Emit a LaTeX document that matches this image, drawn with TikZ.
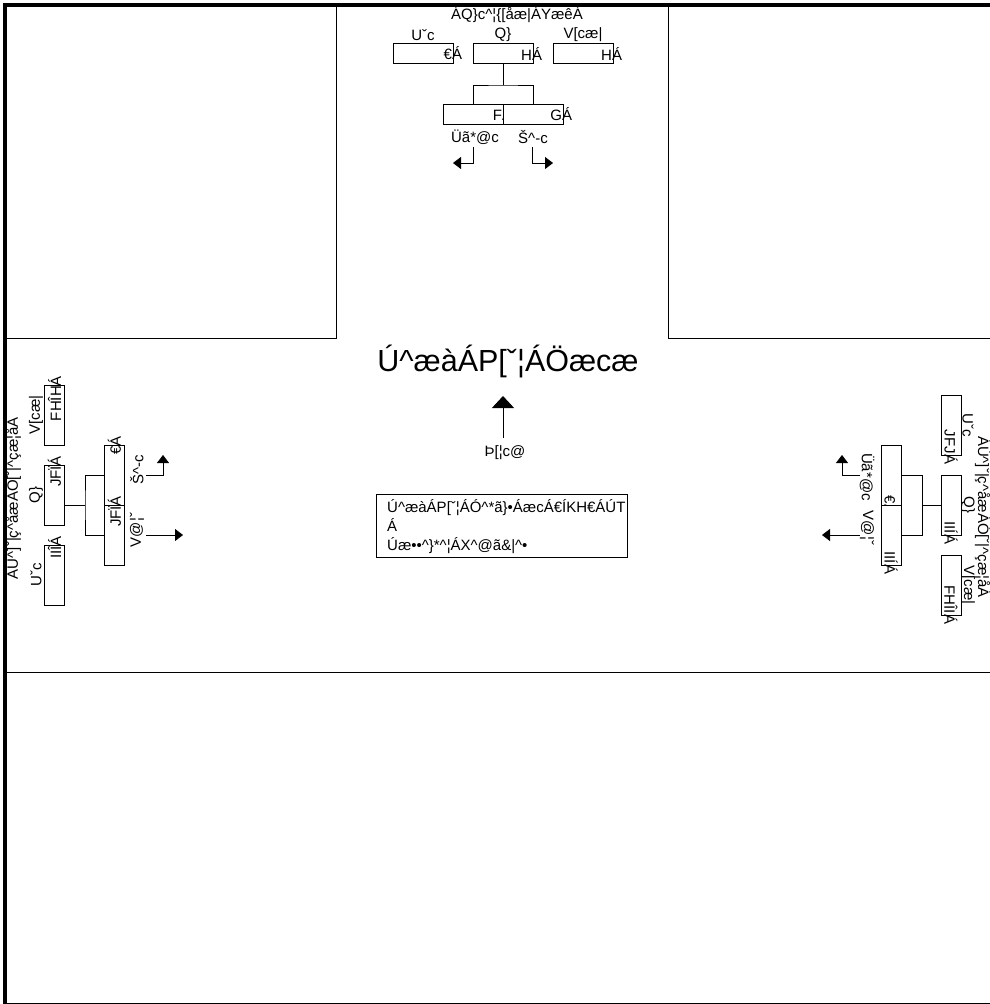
\documentclass[tikz,border=0pt]{standalone}
\usepackage{fontspec}
\setmainfont{Liberation Sans}
\usetikzlibrary{arrows.meta}
\newcommand\ca{\textasciicircum}
\newcommand\vv[1]{#1\rlap{Á}}
\tikzset{
  sm/.style={font=\fontsize{15}{18}\selectfont, inner sep=0pt},
  valbox/.style={draw, fill=white, line width=0.8pt, minimum height=20pt, text width=58pt, align=right, inner sep=1pt, font=\fontsize{15}{18}\selectfont},
  conn/.style={line width=0.8pt},
  arr/.style={line width=0.8pt, -{Triangle[length=8pt,width=12pt]}},
  bigarr/.style={line width=0.8pt, -{Triangle[length=12pt,width=22pt]}},
  frame/.style={line width=4pt},
  panel/.style={line width=0.9pt},
}
\begin{document}
\begin{tikzpicture}[x=1pt,y=-1pt]
\useasboundingbox (0,0) rectangle (989,1004);
% frame and panels
\draw[frame] (5,5) rectangle (993,1005);
\draw[panel] (5,338) -| (336,5);
\draw[panel] (995,338) -| (668,5);
\draw[panel] (5,672) -- (995,672);

% ---------- top approach ----------
\node[sm] (tt) at (517,15) {ÁQ\}c\ca{}¦\{[åæ|ÁYæêÁ};
\node[sm] (tl1) at (423,35) {Uˇc};
\node[sm] (tl2) at (503,35) {Q\}};
\node[sm] (tl3) at (583,35) {V[cæ|};
\node[valbox] (tb1) at (423,53.5) {\vv{€}};
\node[valbox] (tb2) at (503,53.5) {\vv{H}};
\node[valbox] (tb3) at (583,53.5) {\vv{H}};
\node[valbox] (tb4) at (473,114) {\vv{F}};
\node[valbox] (tb5) at (533,114) {\vv{G}};
\coordinate (tj) at (503,85);
\draw[conn] (tb2.south) -- (tj);
\draw[conn] (tb4.north) |- (tj) -| (tb5.north);
\node[sm] (tr) at (475,137) {Üã*@c};
\node[sm] (tlft) at (533,137) {Š\ca{}-c};
\coordinate (tra) at (473,147);
\coordinate (trb) at (453,163);
\coordinate (tla) at (532,147);
\coordinate (tlb) at (553,163);
\draw[arr] (tra) |- (trb);
\draw[arr] (tla) |- (tlb);

% ---------- center ----------
\node[font=\fontsize{30.5}{35}\selectfont, inner sep=0pt] (ct) at (508,362) {Ú\ca{}æàÁP[ˇ¦ÁÖæcæ};
\node[sm] (north) at (505,453) {Þ[¦c@};
\coordinate (na) at (503,438);
\coordinate (nb) at (503,396);
\draw[bigarr] (na) -- (nb);
\node[draw, line width=0.8pt, minimum width=251pt, minimum height=63pt, anchor=north west, inner sep=0pt] (info) at (376,494) {};
\node[anchor=north west, align=left, inner sep=0pt, font=\fontsize{15}{19}\selectfont] (infot) at (387,499)
 {Ú\ca{}æàÁP[ˇ¦ÁÓ\ca{}*ã\}•ÁæcÁ€ÍKH€ÁÚT\\Á\\Úæ••\ca{}\}*\ca{}¦ÁX\ca{}@ã\&|\ca{}•};

% ---------- left approach ----------
\node[sm, rotate=90] (lt) at (13,498) {ÁÙ\ca{}]ˇ|ç\ca{}åæÁÓ[ˇ|\ca{}çæ¦åÁ};
\node[sm, rotate=90] (ll1) at (36,575) {Uˇc};
\node[sm, rotate=90] (ll2) at (36,495) {Q\}};
\node[sm, rotate=90] (ll3) at (36,415) {V[cæ|};
\node[valbox, rotate=90] (lb1) at (54.5,575) {\vv{IIÎ}};
\node[valbox, rotate=90] (lb2) at (54.5,495) {\vv{JFÏ}};
\node[valbox, rotate=90] (lb3) at (54.5,415) {\vv{FHÎH}};
\node[valbox, rotate=90] (lb5) at (114.5,475) {\vv{€}};
\node[valbox, rotate=90] (lb4) at (114.5,535) {\vv{JFÏ}};
\coordinate (lj) at (85,505);
\coordinate (lbs) at (64.5,505);
\draw[conn] (lbs) -- (lj);
\draw[conn] (lb5.north) -| (lj) |- (lb4.north);
\node[sm, rotate=90] (llf) at (137,470) {Š\ca{}-c};
\node[sm, rotate=90] (lth) at (137,530) {V@¦ˇ};
\coordinate (lla) at (146,475);
\coordinate (llb) at (163,455);
\coordinate (lta) at (146,535);
\coordinate (ltb) at (183,535);
\draw[arr] (lla) -| (llb);
\draw[arr] (lta) -- (ltb);

% ---------- right approach ----------
\node[sm, rotate=-90] (rt) at (983,517) {ÁÙ\ca{}]ˇ|ç\ca{}åæÁÓ[ˇ|\ca{}çæ¦åÁ};
\node[sm, rotate=-90] (rl1) at (968,425) {Uˇc};
\node[sm, rotate=-90] (rl2) at (968,505) {Q\}};
\node[sm, rotate=-90] (rl3) at (968,585) {V[cæ|};
\node[valbox, rotate=-90] (rb1) at (951,425) {\vv{JFJ}};
\node[valbox, rotate=-90] (rb2) at (951,505) {\vv{IIÍ}};
\node[valbox, rotate=-90] (rb3) at (951,585) {\vv{FHÎI}};
\node[valbox, rotate=-90] (rb4) at (891,475) {\vv{€}};
\node[valbox, rotate=-90] (rb5) at (891,535) {\vv{IIÍ}};
\coordinate (rj) at (922,505);
\draw[conn] (rb2.south) -- (rj);
\draw[conn] (rb4.north) -| (rj) |- (rb5.north);
\node[sm, rotate=-90] (rr) at (867,477) {Üã*@c};
\node[sm, rotate=-90] (rth) at (867,528) {V@¦ˇ};
\coordinate (rra) at (860,475);
\coordinate (rrb) at (842,455);
\coordinate (rta) at (860,535);
\coordinate (rtb) at (822,535);
\draw[arr] (rra) -| (rrb);
\draw[arr] (rta) -- (rtb);
\end{tikzpicture}
\end{document}
